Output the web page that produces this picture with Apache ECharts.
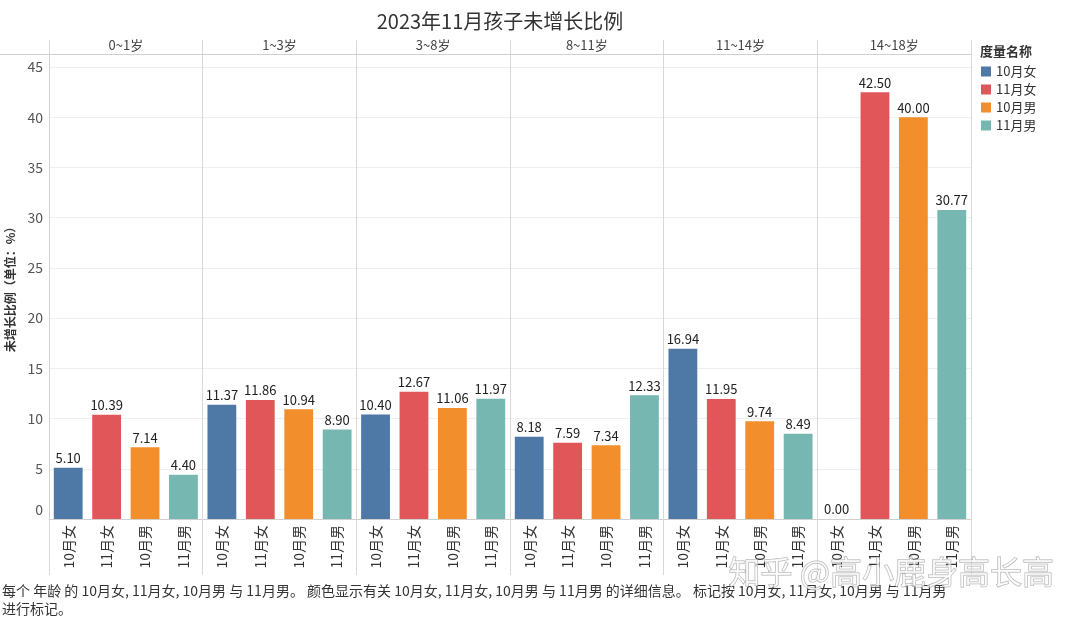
<!DOCTYPE html>
<html>
<head>
<meta charset="utf-8">
<script src="https://cdn.jsdelivr.net/npm/echarts@6/dist/echarts.min.js"></script>
<style>
html,body{margin:0;padding:0;background:#fff;}
#c{width:1080px;height:619px;}
</style>
</head>
<body>
<div id="c"></div>
<script>
var ages = ['0~1岁', '1~3岁', '3~8岁', '8~11岁', '11~14岁', '14~18岁'];
var measures = ['10月女', '11月女', '10月男', '11月男'];
var female10 = [5.10, 11.37, 10.40, 8.18, 16.94, 0.00];
var female11 = [10.39, 11.86, 12.67, 7.59, 11.95, 42.50];
var male10 = [7.14, 10.94, 11.06, 7.34, 9.74, 40.00];
var male11 = [4.40, 8.90, 11.97, 12.33, 8.49, 30.77];
var yTicks = [0, 5, 10, 15, 20, 25, 30, 35, 40, 45];
var colors = ['#4e79a7', '#e15759', '#f28e2b', '#76b7b2'];

var seriesValues = [female10, female11, male10, male11];
var cats = [];
ages.forEach(function (a) { measures.forEach(function (m) { cats.push(m); }); });

var FONT = '"Noto Sans CJK SC", "Noto Sans", sans-serif';
var series = measures.map(function (m, mi) {
  var data = [];
  ages.forEach(function (a, ai) {
    measures.forEach(function (mm, k) {
      data.push(k === mi ? seriesValues[mi][ai] : null);
    });
  });
  return {
    name: m,
    type: 'bar',
    stack: 'all',
    barWidth: '75%',
    xAxisIndex: 0,
    data: data,
    itemStyle: { color: colors[mi] },
    label: {
      show: true,
      position: 'top',
      distance: 3,
      fontSize: 13,
      color: '#222',
      fontFamily: FONT,
      formatter: function (p) { return p.value == null ? '' : Number(p.value).toFixed(2); }
    }
  };
});

function panelStart(i) { return i % measures.length === 0; }

var chart = echarts.init(document.getElementById('c'), null, { renderer: 'canvas' });
chart.setOption({
  backgroundColor: '#fff',
  animation: false,
  color: colors,
  textStyle: { fontFamily: FONT },
  title: [
    { text: '2023年11月孩子未增长比例', left: 495, top: 6, textAlign: 'center',
      textStyle: { fontSize: 20, fontWeight: 'normal', color: '#333', fontFamily: FONT } },
    { text: '度量名称', left: 975, top: 40,
      textStyle: { fontSize: 13, fontWeight: 'bold', color: '#333', fontFamily: FONT } }
  ],
  legend: {
    orient: 'vertical', left: 976, top: 60, itemWidth: 10, itemHeight: 10, itemGap: 5,
    icon: 'rect', data: measures,
    textStyle: { fontSize: 13, color: '#333', fontFamily: FONT }
  },
  grid: { left: 49, right: 109, top: 54, bottom: 100, containLabel: false, outerBoundsMode: 'none' },
  xAxis: [
    {
      type: 'category', data: cats, position: 'bottom',
      axisLine: { show: true, lineStyle: { color: '#d0d0d0' } },
      axisTick: { show: true, interval: panelStart, length: 56, lineStyle: { color: '#d8d8d8' } },
      axisLabel: { interval: 0, rotate: 90, margin: 6, fontSize: 14, color: '#333', fontFamily: FONT },
      splitLine: { show: true, interval: panelStart, lineStyle: { color: '#d8d8d8' } }
    },
    {
      type: 'category', data: ages, position: 'top',
      axisLine: { show: true, lineStyle: { color: '#d0d0d0' } },
      axisTick: { show: true, interval: 0, length: 14, lineStyle: { color: '#d8d8d8' } },
      axisLabel: { interval: 0, margin: 2, fontSize: 13, color: '#444', fontFamily: FONT },
      splitLine: { show: false }
    }
  ],
  yAxis: {
    type: 'value', min: 0, max: 46.3, interval: 5,
    name: '未增长比例（单位：%）', nameLocation: 'middle', nameGap: 33, nameRotate: 90,
    nameMoveOverlap: false,
    nameTextStyle: { fontSize: 12, fontWeight: 'bold', color: '#333', fontFamily: FONT },
    axisLine: { show: true, lineStyle: { color: '#d0d0d0' } },
    axisTick: { show: false },
    axisLabel: {
      fontSize: 14, color: '#555', margin: 6, fontFamily: FONT, showMaxLabel: false,
      formatter: function (v) { return yTicks.indexOf(v) === 0 ? '{z|' + v + '}' : (yTicks.indexOf(v) >= 0 ? String(v) : ''); },
      rich: { z: { fontSize: 14, color: '#555', padding: [0, 0, 18, 0] } }
    },
    splitLine: { show: true, lineStyle: { color: '#efefef' } }
  },
  graphic: [
    { type: 'line', shape: { x1: 0, y1: 54.5, x2: 49, y2: 54.5 }, style: { stroke: '#d0d0d0', lineWidth: 1 } },
    { type: 'line', shape: { x1: 971.5, y1: 519, x2: 971.5, y2: 575 }, style: { stroke: '#d8d8d8', lineWidth: 1 } },
    { type: 'text', left: 2, top: 582, z: 10,
      style: { text: '每个 年龄 的 10月女, 11月女, 10月男 与 11月男。 颜色显示有关 10月女, 11月女, 10月男 与 11月男 的详细信息。 标记按 10月女, 11月女, 10月男 与 11月男\n进行标记。',
        fontSize: 14, lineHeight: 18, fill: '#333', fontFamily: FONT } },
    { type: 'text', left: 728, top: 555, z: 20,
      style: { text: '知乎 @高小鹿身高长高', fontSize: 32, fill: 'rgba(255,255,255,0.65)', stroke: 'rgba(140,140,140,0.7)', lineWidth: 1, fontFamily: FONT } }
  ],
  series: series
});
</script>
</body>
</html>
